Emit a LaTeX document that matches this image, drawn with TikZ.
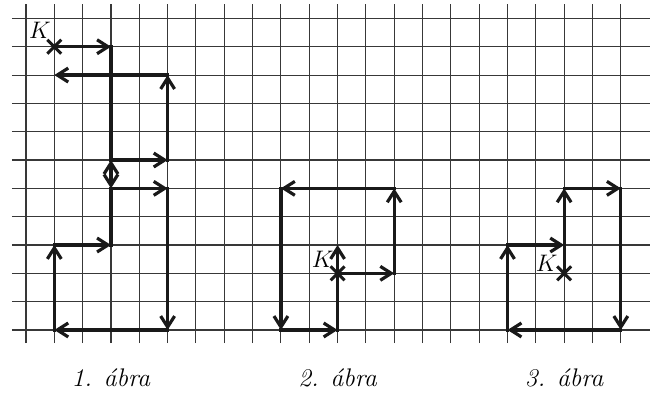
\documentclass[tikz,border=0pt]{standalone}
\usepackage{fontspec}
\usetikzlibrary{arrows.meta,shapes.misc}
\begin{document}
\begin{tikzpicture}[x=0.5cm,y=0.5cm,
  gridline/.style={black!78, line width=0.55pt},
  walk/.style={line width=1.6pt, black!90, line cap=rect},
  mv/.style={walk, -{Straight Barb[length=5.5pt,width=7pt]}},
  dmv/.style={walk, {Straight Barb[length=5.5pt,width=7pt]}-{Straight Barb[length=5.5pt,width=7pt]}},
  start/.style={draw, cross out, black!90, line width=1.5pt, minimum size=5.5pt, inner sep=0pt},
  klabel/.style={font=\fontsize{12}{14}\selectfont, inner sep=0pt},
  caption/.style={anchor=base, font=\fontsize{12.8}{15}\selectfont\itshape}]
\useasboundingbox (-0.918,-2.224) rectangle (22.03,11.65);

% square grid
\foreach \i in {0,...,21} \draw[gridline] (\i,-0.46) -- (\i,11.5);
\foreach \j in {0,...,11} \draw[gridline] (-0.5,\j) -- (22.03,\j);

% ---- figure 1 ----
\node[start] (K1) at (1,10) {};
\node[klabel] (KL1) at (0.49,10.57) {$K$};
\coordinate (A1) at (3,10);
\coordinate (A2) at (3,6);
\coordinate (A3) at (5,6);
\coordinate (A4) at (5,9);
\coordinate (A5) at (1,9);
\coordinate (A6) at (3,5);
\coordinate (A7) at (5,5);
\coordinate (A8) at (5,0);
\coordinate (A9) at (1,0);
\coordinate (A10) at (1,3);
\coordinate (A11) at (3,3);
\draw[mv] (K1.center) -- (A1);
\draw[walk] (A1) -- (A2);
\draw[mv] (A2) -- (A3);
\draw[mv] (A3) -- (A4);
\draw[mv] (A4) -- (A5);
\draw[dmv] (A2) -- (A6);
\draw[mv] (A6) -- (A7);
\draw[mv] (A7) -- (A8);
\draw[mv] (A8) -- (A9);
\draw[mv] (A9) -- (A10);
\draw[mv] (A10) -- (A11);
\draw[walk] (A11) -- (A6);

% ---- figure 2 ----
\node[start] (K2) at (11,2) {};
\node[klabel] (KL2) at (10.47,2.49) {$K$};
\coordinate (B1) at (11,3);
\coordinate (B2) at (13,2);
\coordinate (B3) at (13,5);
\coordinate (B4) at (9,5);
\coordinate (B5) at (9,0);
\coordinate (B6) at (11,0);
\draw[mv] (K2.center) -- (B1);
\draw[mv] (K2.center) -- (B2);
\draw[mv] (B2) -- (B3);
\draw[mv] (B3) -- (B4);
\draw[mv] (B4) -- (B5);
\draw[mv] (B5) -- (B6);
\draw[walk] (B6) -- (K2.center);

% ---- figure 3 ----
\node[start] (K3) at (19,2) {};
\node[klabel] (KL3) at (18.38,2.35) {$K$};
\coordinate (C1) at (19,3);
\coordinate (C2) at (19,5);
\coordinate (C3) at (21,5);
\coordinate (C4) at (21,0);
\coordinate (C5) at (17,0);
\coordinate (C6) at (17,3);
\draw[walk] (K3.center) -- (C1);
\draw[mv] (C1) -- (C2);
\draw[mv] (C2) -- (C3);
\draw[mv] (C3) -- (C4);
\draw[mv] (C4) -- (C5);
\draw[mv] (C5) -- (C6);
\draw[mv] (C6) -- (C1);

% captions
\node[caption] (cap1) at (3,-2.0) {1. ábra};
\node[caption] (cap2) at (11,-2.0) {2. ábra};
\node[caption] (cap3) at (19,-2.0) {3. ábra};
\end{tikzpicture}
\end{document}
